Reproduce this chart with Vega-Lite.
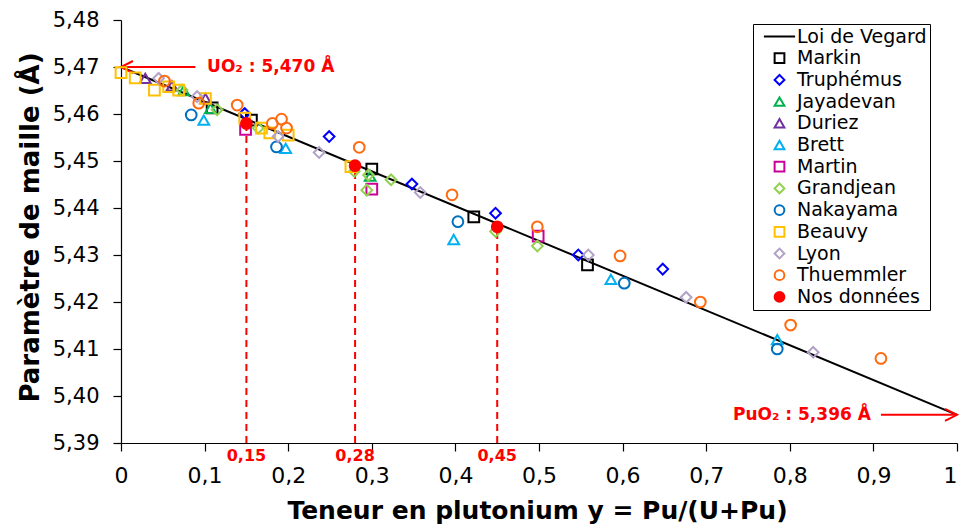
{
  "$schema": "https://vega.github.io/schema/vega-lite/v6.json",
  "width": 836,
  "height": 423,
  "autosize": {"type": "none"},
  "padding": {"left": 121, "top": 20, "right": 3, "bottom": 88},
  "background": "white",
  "config": {
    "view": {"stroke": null},
    "font": "DejaVu Sans",
    "axis": {"grid": false, "domainColor": "black", "tickColor": "black", "labelColor": "black", "titleColor": "black", "labelFont": "DejaVu Sans", "titleFont": "DejaVu Sans", "domainWidth": 1.2, "tickWidth": 1.2}
  },
  "datasets": {
    "pts": [
      {"serie": "Markin", "x": 0.109, "y": 5.4613},
      {"serie": "Markin", "x": 0.156, "y": 5.4587},
      {"serie": "Markin", "x": 0.300, "y": 5.4483},
      {"serie": "Markin", "x": 0.422, "y": 5.4381},
      {"serie": "Markin", "x": 0.558, "y": 5.4279},
      {"serie": "Truphémus", "x": 0.148, "y": 5.4601},
      {"serie": "Truphémus", "x": 0.249, "y": 5.4552},
      {"serie": "Truphémus", "x": 0.348, "y": 5.4451},
      {"serie": "Truphémus", "x": 0.448, "y": 5.4389},
      {"serie": "Truphémus", "x": 0.547, "y": 5.4300},
      {"serie": "Truphémus", "x": 0.648, "y": 5.4270},
      {"serie": "Jayadevan", "x": 0.075, "y": 5.4650},
      {"serie": "Jayadevan", "x": 0.107, "y": 5.4612},
      {"serie": "Jayadevan", "x": 0.298, "y": 5.4468},
      {"serie": "Duriez", "x": 0.029, "y": 5.4676},
      {"serie": "Duriez", "x": 0.061, "y": 5.4660},
      {"serie": "Duriez", "x": 0.101, "y": 5.4633},
      {"serie": "Brett", "x": 0.099, "y": 5.4587},
      {"serie": "Brett", "x": 0.197, "y": 5.4527},
      {"serie": "Brett", "x": 0.398, "y": 5.4333},
      {"serie": "Brett", "x": 0.586, "y": 5.4248},
      {"serie": "Brett", "x": 0.785, "y": 5.4120},
      {"serie": "Martin", "x": 0.149, "y": 5.4567},
      {"serie": "Martin", "x": 0.300, "y": 5.4440},
      {"serie": "Martin", "x": 0.499, "y": 5.4340},
      {"serie": "Grandjean", "x": 0.073, "y": 5.4651},
      {"serie": "Grandjean", "x": 0.115, "y": 5.4609},
      {"serie": "Grandjean", "x": 0.164, "y": 5.4570},
      {"serie": "Grandjean", "x": 0.279, "y": 5.4478},
      {"serie": "Grandjean", "x": 0.296, "y": 5.4470},
      {"serie": "Grandjean", "x": 0.294, "y": 5.4438},
      {"serie": "Grandjean", "x": 0.323, "y": 5.4460},
      {"serie": "Grandjean", "x": 0.448, "y": 5.4350},
      {"serie": "Grandjean", "x": 0.498, "y": 5.4319},
      {"serie": "Nakayama", "x": 0.084, "y": 5.4598},
      {"serie": "Nakayama", "x": 0.186, "y": 5.4530},
      {"serie": "Nakayama", "x": 0.403, "y": 5.4371},
      {"serie": "Nakayama", "x": 0.602, "y": 5.4240},
      {"serie": "Nakayama", "x": 0.785, "y": 5.4100},
      {"serie": "Beauvy", "x": 0.000, "y": 5.4688},
      {"serie": "Beauvy", "x": 0.017, "y": 5.4677},
      {"serie": "Beauvy", "x": 0.040, "y": 5.4651},
      {"serie": "Beauvy", "x": 0.057, "y": 5.4658},
      {"serie": "Beauvy", "x": 0.069, "y": 5.4651},
      {"serie": "Beauvy", "x": 0.101, "y": 5.4633},
      {"serie": "Beauvy", "x": 0.148, "y": 5.4591},
      {"serie": "Beauvy", "x": 0.168, "y": 5.4570},
      {"serie": "Beauvy", "x": 0.178, "y": 5.4560},
      {"serie": "Beauvy", "x": 0.200, "y": 5.4555},
      {"serie": "Beauvy", "x": 0.275, "y": 5.4488},
      {"serie": "Lyon", "x": 0.045, "y": 5.4676},
      {"serie": "Lyon", "x": 0.091, "y": 5.4637},
      {"serie": "Lyon", "x": 0.188, "y": 5.4552},
      {"serie": "Lyon", "x": 0.237, "y": 5.4518},
      {"serie": "Lyon", "x": 0.358, "y": 5.4433},
      {"serie": "Lyon", "x": 0.559, "y": 5.4300},
      {"serie": "Lyon", "x": 0.676, "y": 5.4210},
      {"serie": "Lyon", "x": 0.828, "y": 5.4093},
      {"serie": "Thuemmler", "x": 0.052, "y": 5.4670},
      {"serie": "Thuemmler", "x": 0.093, "y": 5.4623},
      {"serie": "Thuemmler", "x": 0.139, "y": 5.4619},
      {"serie": "Thuemmler", "x": 0.181, "y": 5.4580},
      {"serie": "Thuemmler", "x": 0.192, "y": 5.4589},
      {"serie": "Thuemmler", "x": 0.198, "y": 5.4570},
      {"serie": "Thuemmler", "x": 0.285, "y": 5.4529},
      {"serie": "Thuemmler", "x": 0.396, "y": 5.4428},
      {"serie": "Thuemmler", "x": 0.498, "y": 5.4360},
      {"serie": "Thuemmler", "x": 0.597, "y": 5.4298},
      {"serie": "Thuemmler", "x": 0.693, "y": 5.4200},
      {"serie": "Thuemmler", "x": 0.801, "y": 5.4151},
      {"serie": "Thuemmler", "x": 0.909, "y": 5.4080},
      {"serie": "Nos données", "x": 0.15, "y": 5.458},
      {"serie": "Nos données", "x": 0.28, "y": 5.449},
      {"serie": "Nos données", "x": 0.45, "y": 5.436}
    ],
    "vegard": [
      {"x": 0, "y": 5.470},
      {"x": 1, "y": 5.396}
    ],
    "dashes": [
      {"x": 0.15, "y": 5.39, "y2": 5.458, "label": "0,15"},
      {"x": 0.28, "y": 5.39, "y2": 5.449, "label": "0,28"},
      {"x": 0.45, "y": 5.39, "y2": 5.436, "label": "0,45"}
    ],
    "uo2": [{"x": 0, "x2": 0.089, "y": 5.470, "label": "UO₂ : 5,470 Å", "tx": 0.103}],
    "puo2": [{"x": 0.909, "x2": 1, "y": 5.396, "label": "PuO₂ : 5,396 Å", "tx": 0.897}]
  },
  "encoding": {
    "x": {
      "field": "x", "type": "quantitative",
      "scale": {"domain": [0, 1], "nice": false, "zero": false},
      "axis": {
        "values": [0, 0.1, 0.2, 0.3, 0.4, 0.5, 0.6, 0.7, 0.8, 0.9, 1],
        "labelExpr": "replace(format(datum.value, '.1~f'), '.', ',')",
        "labelFontSize": 22, "labelFlush": false, "labelOverlap": false,
        "labelAlign": {"condition": {"test": "datum.value == 1", "value": "right"}, "value": "center"},
        "labelDx": {"condition": {"test": "datum.value == 1", "value": 2}, "value": 0},
        "tickSize": 8, "labelPadding": 14,
        "title": "Teneur en plutonium y = Pu/(U+Pu)",
        "titleFontSize": 25, "titleFontWeight": "bold",
        "titleY": 67, "titleX": 416, "titleBaseline": "middle"
      }
    },
    "y": {
      "field": "y", "type": "quantitative",
      "scale": {"domain": [5.39, 5.48], "nice": false, "zero": false},
      "axis": {
        "values": [5.39, 5.40, 5.41, 5.42, 5.43, 5.44, 5.45, 5.46, 5.47, 5.48],
        "labelExpr": "replace(format(datum.value, '.2f'), '.', ',')",
        "labelFontSize": 21, "labelOverlap": false, "labelFlush": false,
        "tickSize": 8, "labelPadding": 14,
        "title": "Paramètre de maille (Å)",
        "titleFontSize": 26, "titleFontWeight": "bold",
        "titleX": -91, "titleY": 207, "titleBaseline": "middle"
      }
    }
  },
  "layer": [
    {
      "data": {"name": "vegard"},
      "mark": {"type": "line", "color": "black", "strokeWidth": 2},
      "encoding": {}
    },
    {
      "data": {"name": "dashes"},
      "mark": {"type": "rule", "color": "#FF0000", "strokeWidth": 2, "strokeDash": [7, 5]},
      "encoding": {"y2": {"field": "y2"}}
    },
    {
      "data": {"name": "uo2"},
      "mark": {"type": "rule", "color": "#FF0000", "strokeWidth": 2},
      "encoding": {"x2": {"field": "x2"}}
    },
    {
      "data": {"name": "puo2"},
      "mark": {"type": "rule", "color": "#FF0000", "strokeWidth": 2},
      "encoding": {"x2": {"field": "x2"}}
    },
    {
      "data": {"name": "uo2"},
      "mark": {"type": "point", "shape": "M2,-1L0,0L2,1", "size": 144, "filled": false, "stroke": "#FF0000", "strokeWidth": 2, "opacity": 1},
      "encoding": {}
    },
    {
      "data": {"name": "puo2"},
      "mark": {"type": "point", "shape": "M-2,-1L0,0L-2,1", "size": 144, "filled": false, "stroke": "#FF0000", "strokeWidth": 2, "opacity": 1},
      "encoding": {"x": {"field": "x2", "type": "quantitative"}}
    },
    {
      "data": {"name": "pts"},
      "mark": {"type": "point", "size": 115, "strokeWidth": 2, "opacity": 1},
      "encoding": {
        "shape": {
          "field": "serie", "type": "nominal",
          "scale": {
            "domain": ["Loi de Vegard", "Markin", "Truphémus", "Jayadevan", "Duriez", "Brett", "Martin", "Grandjean", "Nakayama", "Beauvy", "Lyon", "Thuemmler", "Nos données"],
            "range": ["M-3.2,0L3.2,0", "square", "diamond", "triangle-up", "triangle-up", "triangle-up", "square", "diamond", "circle", "square", "diamond", "circle", "circle"]
          },
          "legend": {"title": null}
        },
        "stroke": {
          "field": "serie", "type": "nominal",
          "scale": {
            "domain": ["Loi de Vegard", "Markin", "Truphémus", "Jayadevan", "Duriez", "Brett", "Martin", "Grandjean", "Nakayama", "Beauvy", "Lyon", "Thuemmler", "Nos données"],
            "range": ["#000000", "#000000", "#0000FF", "#00B050", "#7030A0", "#00B0F0", "#CC0099", "#92D050", "#0070C0", "#FFC000", "#B3A2C7", "#FF6A10", "#FF0000"]
          },
          "legend": {"title": null}
        },
        "fill": {
          "field": "serie", "type": "nominal",
          "scale": {
            "domain": ["Loi de Vegard", "Markin", "Truphémus", "Jayadevan", "Duriez", "Brett", "Martin", "Grandjean", "Nakayama", "Beauvy", "Lyon", "Thuemmler", "Nos données"],
            "range": ["transparent", "transparent", "transparent", "transparent", "transparent", "transparent", "transparent", "transparent", "transparent", "transparent", "transparent", "transparent", "#FF0000"]
          },
          "legend": {
            "title": null, "orient": "none", "legendX": 632, "legendY": 4,
            "strokeColor": "black", "fillColor": "white", "padding": 3,
            "labelFontSize": 19, "labelFont": "DejaVu Sans", "labelColor": "black", "labelLimit": 0,
            "symbolSize": 95, "symbolStrokeWidth": 2, "symbolOpacity": 1, "symbolOffset": 14,
            "labelOffset": 8, "rowPadding": 1.7
          }
        }
      }
    },
    {
      "data": {"name": "dashes"},
      "mark": {"type": "text", "color": "#FF0000", "fontSize": 16, "fontWeight": "bold", "font": "DejaVu Sans", "baseline": "middle", "align": "center", "dy": 13},
      "encoding": {"text": {"field": "label"}}
    },
    {
      "data": {"name": "uo2"},
      "mark": {"type": "text", "color": "#FF0000", "fontSize": 17, "fontWeight": "bold", "font": "DejaVu Sans", "baseline": "middle", "align": "left"},
      "encoding": {"x": {"field": "tx", "type": "quantitative"}, "text": {"field": "label"}}
    },
    {
      "data": {"name": "puo2"},
      "mark": {"type": "text", "color": "#FF0000", "fontSize": 17, "fontWeight": "bold", "font": "DejaVu Sans", "baseline": "middle", "align": "right"},
      "encoding": {"x": {"field": "tx", "type": "quantitative"}, "text": {"field": "label"}}
    }
  ]
}
